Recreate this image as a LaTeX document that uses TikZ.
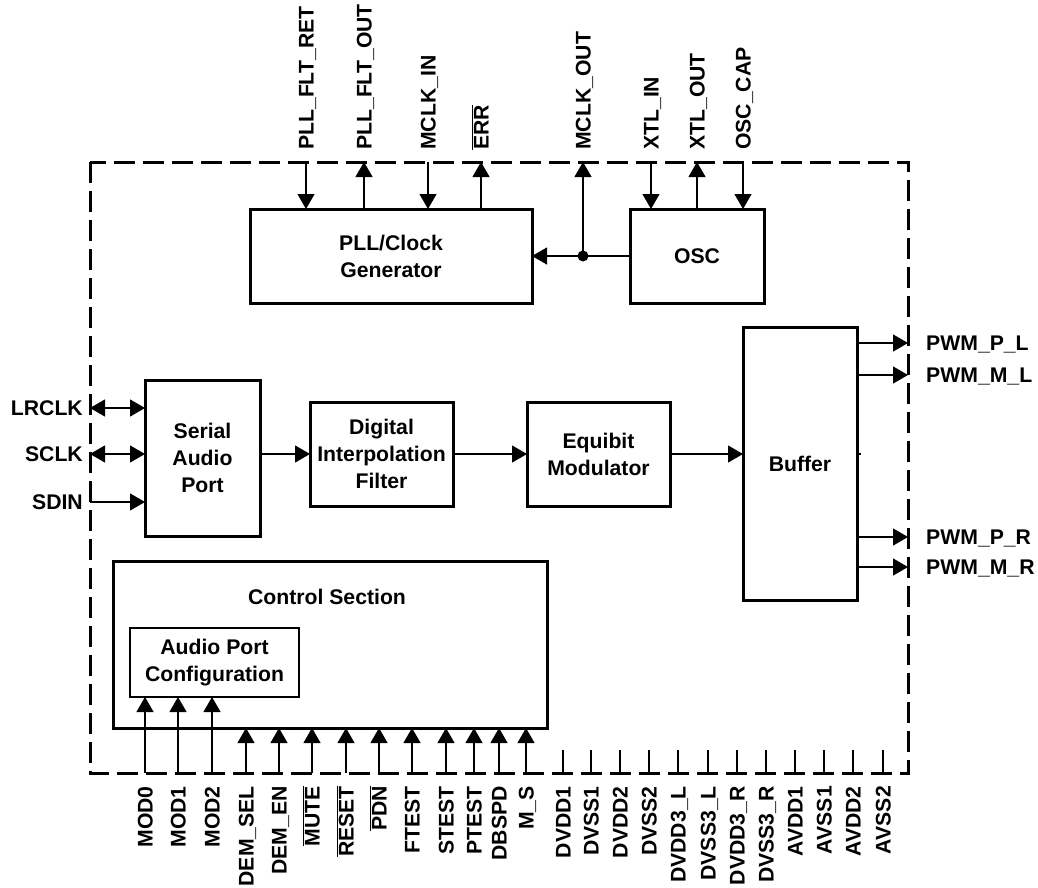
\documentclass[tikz,border=0pt]{standalone}
\usepackage{fontspec}
\setmainfont{Liberation Sans}
\usetikzlibrary{arrows.meta}
\newcommand{\diagfont}{\bfseries\fontsize{21.2}{27}\selectfont}
\begin{document}
\begin{tikzpicture}[x=1pt,y=-1pt,
  box/.style={draw, line width=3pt, inner sep=0pt, outer sep=0pt, align=center, font=\diagfont},
  sig/.style={line width=1.2pt, -{Triangle[length=15pt,width=17pt]}},
  bisig/.style={line width=1.2pt, {Triangle[length=15pt,width=17pt]}-{Triangle[length=15pt,width=17pt]}},
  wire/.style={line width=1.2pt},
  toplbl/.style={rotate=90, anchor=base west, inner sep=0pt, font=\diagfont},
  botlbl/.style={rotate=90, anchor=base east, inner sep=0pt, font=\diagfont},
  leftlbl/.style={anchor=base east, inner sep=0pt, font=\diagfont},
  rightlbl/.style={anchor=base west, inner sep=0pt, font=\diagfont},
  border/.style={line width=3pt, dash pattern=on 21pt off 8pt}
]
\useasboundingbox (0,0) rectangle (1038,888);

% outer dashed boundary
\draw[border] (90,162) rectangle (908,773);

% blocks
\node[box, minimum width=282pt, minimum height=94pt] (pll) at (391,256) {PLL/Clock\\Generator};
\node[box, minimum width=134pt, minimum height=94pt] (osc) at (697,256) {OSC};
\node[box, minimum width=115pt, minimum height=156pt] (sap) at (202.5,458) {Serial\\Audio\\Port};
\node[box, minimum width=143pt, minimum height=104pt] (dif) at (381.5,454) {Digital\\Interpolation\\Filter};
\node[box, minimum width=143pt, minimum height=104pt] (eqm) at (598.5,454) {Equibit\\Modulator};
\node[box, minimum width=114pt, minimum height=273pt] (buf) at (800,463.5) {Buffer};
\node[box, minimum width=434pt, minimum height=167pt] (cs) at (330,644.5) {};
\node[font=\diagfont, inner sep=0pt] (cstitle) at (327,597) {Control Section};
\node[box, line width=2pt, minimum width=169pt, minimum height=69pt] (apc) at (214.5,662.5) {Audio Port\\Configuration};

% top pins
\coordinate (pfr) at (306,162);
\coordinate (pfo) at (364,162);
\coordinate (mci) at (428,162);
\coordinate (err) at (481,162);
\coordinate (mco) at (583,162);
\coordinate (xin) at (651,162);
\coordinate (xout) at (697,162);
\coordinate (ocap) at (743,162);

\draw[sig] (pfr) -- (pfr |- pll.north);
\draw[sig] (pfo |- pll.north) -- (pfo);
\draw[sig] (mci) -- (mci |- pll.north);
\draw[sig] (err |- pll.north) -- (err);
\draw[sig] (xin) -- (xin |- osc.north);
\draw[sig] (xout |- osc.north) -- (xout);
\draw[sig] (ocap) -- (ocap |- osc.north);

\coordinate (jn) at (583,256);
\draw[sig] (osc.west) -- (pll.east);
\draw[sig] (jn) -- (mco);
\fill (jn) circle (5.5pt);

\node[toplbl] (lpfr) at (313.5,150) {PLL\_FLT\_RET};
\node[toplbl] (lpfo) at (371.5,150) {PLL\_FLT\_OUT};
\node[toplbl] (lmci) at (435.5,150) {MCLK\_IN};
\node[toplbl] (lerr) at (488.5,150) {$\overline{\mbox{ERR}}$};
\node[toplbl] (lmco) at (590.5,150) {MCLK\_OUT};
\node[toplbl] (lxin) at (658.5,150) {XTL\_IN};
\node[toplbl] (lxout) at (704.5,150) {XTL\_OUT};
\node[toplbl] (locap) at (750.5,150) {OSC\_CAP};

% left pins
\coordinate (lr) at (90,408);
\coordinate (sc) at (90,454);
\coordinate (sd) at (90,502);
\draw[bisig] (lr) -- (lr -| sap.west);
\draw[bisig] (sc) -- (sc -| sap.west);
\draw[sig] (sd) -- (sd -| sap.west);
\node[leftlbl] (llr) at (83,415.5) {LRCLK};
\node[leftlbl] (lsc) at (83,461.5) {SCLK};
\node[leftlbl] (lsd) at (83,509.5) {SDIN};

% signal chain
\draw[sig] (sap.east |- dif.west) -- (dif.west);
\draw[sig] (dif.east) -- (eqm.west);
\draw[sig] (eqm.east) -- (eqm.east -| buf.west);
\draw[wire] (eqm.east -| buf.east) -- ++(4,0);

% right pins
\coordinate (ppl) at (908,343);
\coordinate (pml) at (908,375);
\coordinate (ppr) at (908,537);
\coordinate (pmr) at (908,567);
\draw[sig] (ppl -| buf.east) -- (ppl);
\draw[sig] (pml -| buf.east) -- (pml);
\draw[sig] (ppr -| buf.east) -- (ppr);
\draw[sig] (pmr -| buf.east) -- (pmr);
\node[rightlbl] (lppl) at (926,350.5) {PWM\_P\_L};
\node[rightlbl] (lpml) at (926,382.5) {PWM\_M\_L};
\node[rightlbl] (lppr) at (926,544.5) {PWM\_P\_R};
\node[rightlbl] (lpmr) at (926,574.5) {PWM\_M\_R};

% bottom control pins
\foreach \nm/\xx/\tx in {m0/145/MOD0, m1/178/MOD1, m2/212/MOD2}{
  \coordinate (\nm) at (\xx,773);
  \draw[sig] (\nm) -- (\nm |- apc.south);
  \node[botlbl] (l\nm) at (\xx+7.5,786) {\tx};
}
\foreach \nm/\xx/\tx in {ds/246/DEM\_SEL, de/279/DEM\_EN, mu/312/$\overline{\mbox{MUTE}}$, rs/346/$\overline{\mbox{RESET}}$, pd/379/$\overline{\mbox{PDN}}$, ft/412/FTEST, st/446/STEST, pt/474/PTEST, db/499/DBSPD, ms/526/M\_S}{
  \coordinate (\nm) at (\xx,773);
  \draw[sig] (\nm) -- (\nm |- cs.south);
  \node[botlbl] (l\nm) at (\xx+7.5,786) {\tx};
}

% power pins
\foreach \nm/\xx/\tx in {pa/563/DVDD1, pb/591/DVSS1, pc/620/DVDD2, pd2/649/DVSS2, pe/678/DVDD3\_L, pf/708/DVSS3\_L, pg/737/DVDD3\_R, ph/766/DVSS3\_R, pi/795/AVDD1, pj/824/AVSS1, pk/853/AVDD2, pl/883/AVSS2}{
  \coordinate (\nm) at (\xx,773);
  \draw[wire] (\nm) -- ++(0,-23);
  \node[botlbl] (l\nm) at (\xx+7.5,786) {\tx};
}
\end{tikzpicture}
\end{document}
